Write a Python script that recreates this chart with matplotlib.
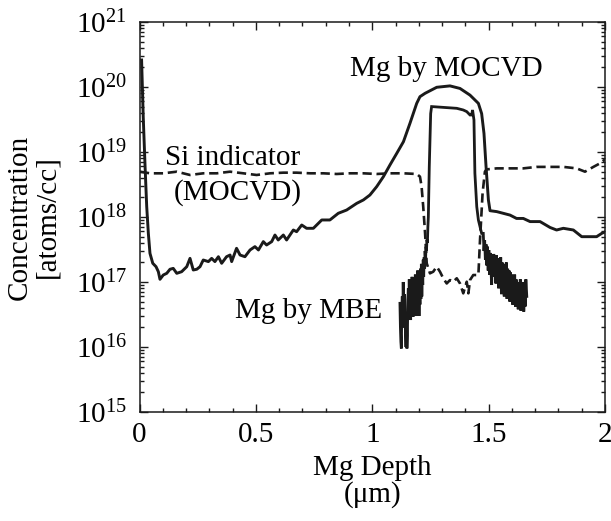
import matplotlib
matplotlib.use("Agg")
import matplotlib.pyplot as plt
from matplotlib.ticker import LogLocator, MultipleLocator, FixedLocator, NullFormatter

plt.rcParams['font.family'] = ['Liberation Serif', 'DejaVu Serif']
plt.rcParams['mathtext.fontset'] = 'custom'
plt.rcParams['mathtext.rm'] = 'Liberation Serif'
plt.rcParams['mathtext.default'] = 'regular'

# ---- data (depth in um, concentration in atoms/cc) ----
mocvd_depth = [0.009, 0.016, 0.024, 0.031, 0.038, 0.045, 0.057, 0.071, 0.081, 0.088,
               0.102, 0.117, 0.131, 0.145, 0.160, 0.181, 0.203, 0.217, 0.231, 0.246,
               0.260, 0.274, 0.296, 0.310, 0.324, 0.339, 0.353, 0.374, 0.389, 0.396,
               0.417, 0.432, 0.453, 0.475, 0.496, 0.511, 0.532, 0.546, 0.568, 0.582,
               0.596, 0.618, 0.632, 0.661, 0.675, 0.697, 0.718, 0.747, 0.783, 0.818,
               0.854, 0.890, 0.933, 0.962, 0.990, 1.019, 1.048, 1.076, 1.105, 1.134,
               1.162, 1.191, 1.205, 1.227, 1.277, 1.334, 1.377, 1.420, 1.456, 1.470,
               1.480, 1.489, 1.499, 1.506, 1.535, 1.592, 1.620, 1.649, 1.678, 1.721,
               1.764, 1.792, 1.821, 1.864, 1.900, 1.964, 1.986, 2.000]
mocvd_conc = [2.6e20, 3.5e19, 5.9e18, 1.44e18, 5.6e17, 2.76e17, 1.94e17, 1.72e17, 1.44e17, 1.10e17,
              1.28e17, 1.36e17, 1.57e17, 1.62e17, 1.36e17, 1.44e17, 1.72e17, 2.31e17, 1.53e17, 1.57e17,
              1.72e17, 2.18e17, 2.06e17, 2.31e17, 2.06e17, 2.45e17, 1.94e17, 2.45e17, 2.60e17, 2.06e17,
              3.30e17, 2.60e17, 2.45e17, 3.11e17, 3.50e17, 3.11e17, 4.18e17, 3.71e17, 4.18e17, 5.28e17,
              4.43e17, 5.28e17, 4.43e17, 6.31e17, 5.94e17, 7.53e17, 6.70e17, 6.70e17, 9.0e17, 9.0e17,
              1.14e18, 1.28e18, 1.62e18, 1.83e18, 2.18e18, 2.93e18, 4.18e18, 6.31e18, 9.5e18, 1.44e19,
              2.76e19, 5.6e19, 7.1e19, 8.0e19, 9.9e19, 1.04e20, 9.5e19, 7.5e19, 5.6e19, 3.9e19,
              1.94e19, 5.9e18, 1.83e18, 1.25e18, 1.21e18, 1.07e18, 9.5e17, 9.5e17, 8.5e17, 8.5e17,
              6.9e17, 6.31e17, 6.70e17, 6.31e17, 4.98e17, 4.98e17, 5.6e17, 5.9e17]

si_depth = [0.002, 0.045, 0.102, 0.160, 0.217, 0.274, 0.332, 0.389, 0.446, 0.503,
            0.561, 0.618, 0.675, 0.733, 0.790, 0.847, 0.904, 0.962, 1.019, 1.076,
            1.134, 1.191, 1.205, 1.212, 1.219, 1.227, 1.234, 1.248, 1.262, 1.277,
            1.291, 1.305, 1.320, 1.334, 1.348, 1.363, 1.377, 1.391, 1.406, 1.413,
            1.420, 1.434, 1.456, 1.463, 1.474, 1.484, 1.491, 1.535, 1.592, 1.649,
            1.706, 1.764, 1.821, 1.878, 1.914, 1.950, 1.979, 2.000]
si_conc = [4.98e18, 4.70e18, 4.70e18, 4.98e18, 4.43e18, 4.70e18, 4.70e18, 4.98e18, 4.70e18, 4.43e18,
           4.70e18, 4.81e18, 4.81e18, 4.70e18, 4.70e18, 4.59e18, 4.70e18, 4.70e18, 4.59e18, 4.70e18,
           4.70e18, 4.59e18, 4.18e18, 2.93e18, 1.44e18, 5.6e17, 1.94e17, 1.36e17, 1.44e17, 1.72e17,
           1.44e17, 1.14e17, 9.5e16, 1.07e17, 1.01e17, 1.14e17, 9.5e16, 6.7e16, 1.01e17, 6.7e16,
           1.07e17, 1.28e17, 1.28e17, 4.43e17, 2.31e18, 4.98e18, 5.4e18, 5.6e18, 5.6e18, 5.6e18,
           5.9e18, 5.9e18, 5.9e18, 5.6e18, 4.98e18, 5.9e18, 6.7e18, 7.7e18]

mbe_depth = [1.119, 1.121, 1.123, 1.125, 1.127, 1.129, 1.131, 1.133, 1.135, 1.137,
             1.139, 1.141, 1.143, 1.145, 1.147, 1.149, 1.151, 1.153, 1.155, 1.157,
             1.159, 1.161, 1.163, 1.165, 1.167, 1.169, 1.171, 1.173, 1.175, 1.177,
             1.179, 1.181, 1.183, 1.185, 1.187, 1.189, 1.191, 1.193, 1.195, 1.197,
             1.199, 1.201, 1.203, 1.205, 1.207, 1.209, 1.211, 1.213, 1.215, 1.217,
             1.219, 1.221, 1.223, 1.225, 1.227, 1.229, 1.231, 1.233, 1.235, 1.237,
             1.239, 1.241, 1.245, 1.251, 1.255, 1.305, 1.363, 1.391, 1.406, 1.420,
             1.427, 1.431, 1.437, 1.441, 1.449, 1.456, 1.463, 1.470,
             1.477, 1.480, 1.483, 1.486, 1.489, 1.492, 1.495, 1.498, 1.501, 1.504,
             1.507, 1.510, 1.513, 1.516, 1.519, 1.522, 1.525, 1.528, 1.531, 1.534,
             1.537, 1.540, 1.543, 1.546, 1.549, 1.552, 1.555, 1.558, 1.561, 1.564,
             1.567, 1.570, 1.573, 1.576, 1.579, 1.582, 1.585, 1.588, 1.591, 1.594,
             1.597, 1.600, 1.603, 1.606, 1.609, 1.612, 1.615, 1.618, 1.621, 1.624,
             1.627, 1.630, 1.633, 1.636, 1.639, 1.642, 1.645, 1.648, 1.651, 1.654,
             1.657, 1.660, 1.664]
mbe_conc = [4.7e16, 2.0e16, 1.2e16, 9.5e15, 3.5e16, 6.0e16, 2.5e16, 1.0e17, 4.0e16, 2.0e16,
            6.5e16, 2.6e16, 1.6e16, 1.0e16, 3.0e16, 9.5e15, 1.5e16, 5.3e16, 8.0e16, 3.0e16,
            1.1e17, 3.5e16, 7.0e16, 2.6e16, 9.0e16, 3.0e16, 1.2e17, 4.0e16, 2.9e16, 1.0e17,
            3.5e16, 8.5e16, 3.3e16, 1.3e17, 4.5e16, 3.0e16, 1.1e17, 5.0e16, 1.5e17, 3.3e16,
            1.2e17, 3.0e16, 1.0e17, 4.5e16, 1.6e17, 5.5e16, 1.9e17, 6.0e16, 1.5e17, 9.0e16,
            2.2e17, 1.2e17, 2.4e17, 1.6e17, 3.0e17, 2.2e17, 3.5e17, 3.0e17, 4.5e17, 4.0e17,
            7.0e17, 1.0e18, 5.9e18, 3.9e19, 5.0e19, 4.86e19, 4.70e19, 4.43e19, 4.18e19, 3.71e19,
            3.71e19, 4.43e19, 3.11e19, 4.70e18, 1.44e18, 9.0e17, 7.1e17, 5.6e17,
            5.6e17, 3.0e17, 4.4e17, 2.2e17, 3.8e17, 1.8e17, 3.5e17, 1.5e17, 3.1e17, 1.3e17,
            2.8e17, 1.6e17, 9.0e16, 2.5e17, 1.2e17, 2.7e17, 1.4e17, 2.4e17, 9.5e16, 2.6e17,
            1.1e17, 2.3e17, 8.0e16, 2.1e17, 1.0e17, 2.4e17, 6.5e16, 2.0e17, 8.5e16, 1.9e17,
            6.0e16, 1.7e17, 7.5e16, 2.0e17, 5.5e16, 1.6e17, 7.0e16, 1.5e17, 5.0e16, 1.4e17,
            6.0e16, 1.3e17, 4.5e16, 1.2e17, 5.5e16, 1.3e17, 4.2e16, 1.1e17, 4.5e16, 1.0e17,
            3.8e16, 9.5e16, 4.5e16, 1.1e17, 3.6e16, 8.0e16, 4.0e16, 1.0e17, 3.5e16, 7.5e16,
            4.2e16, 1.1e17, 6.0e16]

x_ticks = [0, 0.5, 1, 1.5, 2]
x_tick_labels = ['0', '0.5', '1', '1.5', '2']
y_ticks = [1e15, 1e16, 1e17, 1e18, 1e19, 1e20, 1e21]
y_tick_labels = ['$10^{15}$', '$10^{16}$', '$10^{17}$', '$10^{18}$',
                 '$10^{19}$', '$10^{20}$', '$10^{21}$']

fig = plt.figure(figsize=(6.11, 5.21), dpi=100)
ax = fig.add_axes([139.5/611, (521-412)/521, (605-139.5)/611, (412-22)/521])

col = '#1a1a1a'
ax.plot(mocvd_depth, mocvd_conc, color=col, lw=2.1, solid_joinstyle='round')
ax.plot(mbe_depth, mbe_conc, color=col, lw=2.0, solid_joinstyle='miter')
ax.plot(si_depth, si_conc, color=col, lw=1.9, linestyle=(0, (3.5, 1.8)))

ax.set_yscale('log')
ax.set_xlim(0, 2)
ax.set_ylim(1e15, 1e21)

ax.xaxis.set_major_locator(FixedLocator(x_ticks))
ax.set_xticklabels(x_tick_labels)
ax.xaxis.set_minor_locator(MultipleLocator(0.1))
ax.yaxis.set_major_locator(FixedLocator(y_ticks))
ax.set_yticklabels(y_tick_labels)
ax.yaxis.set_minor_locator(LogLocator(base=10, subs=range(2, 10), numticks=100))
ax.yaxis.set_minor_formatter(NullFormatter())

ax.tick_params(which='both', direction='in', top=True, right=True, width=1.0, color=col)
ax.tick_params(which='major', length=6, labelsize=21, pad=7)
ax.tick_params(which='minor', length=3.2)
ax.tick_params(axis='y', which='major', pad=9)
for s in ax.spines.values():
    s.set_linewidth(1.1)
    s.set_color(col)

ax.set_xlabel('Mg Depth\n(μm)', fontsize=21, linespacing=1.0, labelpad=5)
ax.set_ylabel('Concentration\n[atoms/cc]', fontsize=21, linespacing=1.1, labelpad=11)

ax.text(1.32, 10**20.28, 'Mg by MOCVD', fontsize=21, ha='center', va='center')
ax.text(0.40, 10**18.91, 'Si indicator', fontsize=21, ha='center', va='center')
ax.text(0.42, 10**18.38, '(MOCVD)', fontsize=21, ha='center', va='center')
ax.text(0.725, 10**16.56, 'Mg by MBE', fontsize=21, ha='center', va='center')

fig.savefig('out.png', dpi=100)
